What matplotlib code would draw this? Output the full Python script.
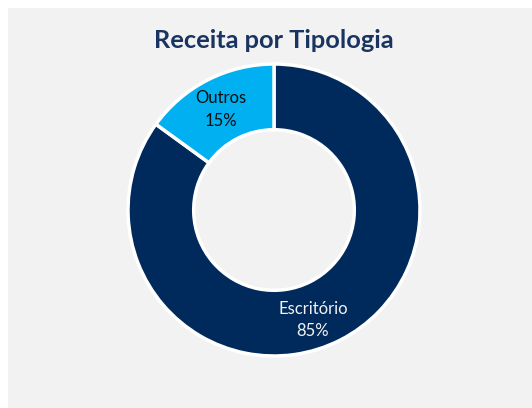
import numpy as np
import matplotlib.pyplot as plt
from matplotlib.patches import Rectangle

# Donnees du graphique
categorias = ["Escritório", "Outros"]
valores = [85, 15]
cores = ["#002A5C", "#00B0F0"]
cores_texto = ["#F2F2F2", "#0D0D0D"]
# decalage angulaire des etiquettes (degres), comme dans Excel
decalagem = [-7.5, 1.0]
raio_rotulo = [0.80, 0.78]

plt.rcParams["font.family"] = ["Lato", "DejaVu Sans"]

fig = plt.figure(figsize=(5.32, 4.08), dpi=100)
fig.patch.set_facecolor("white")
# fond gris du cadre
fig.patches.append(Rectangle((8 / 532, 0), 1, 400 / 408, transform=fig.transFigure,
                             facecolor="#F2F2F2", edgecolor="none", zorder=-5))

ax = fig.add_axes([128 / 532, 52 / 408, 292 / 532, 292 / 408])
ax.set_facecolor("none")
ax.set_zorder(2)

textos = iter(categorias)


def rotulo(pct):
    return "%s\n%d%%" % (next(textos), round(pct))


wedges, _, autotexts = ax.pie(
    valores, colors=cores, startangle=90, counterclock=False, radius=1,
    autopct=rotulo, pctdistance=0.78,
    wedgeprops=dict(width=0.45, edgecolor="white", linewidth=2.5),
    textprops=dict(fontsize=12, linespacing=1.5),
)
for w, t, c, d, r in zip(wedges, autotexts, cores_texto, decalagem, raio_rotulo):
    ang = np.deg2rad((w.theta1 + w.theta2) / 2 + d)
    t.set_position((r * np.cos(ang), r * np.sin(ang)))
    t.set_color(c)

ax.set_xlim(-1, 1)
ax.set_ylim(-1, 1)
ax.set_aspect("equal")
ax.axis("off")

fig.text(274 / 532, 1 - 40 / 408, "Receita por Tipologia", ha="center", va="center",
         fontsize=18.3, fontweight="bold", color="#1A3461")

fig.savefig("out.png", dpi=100)
